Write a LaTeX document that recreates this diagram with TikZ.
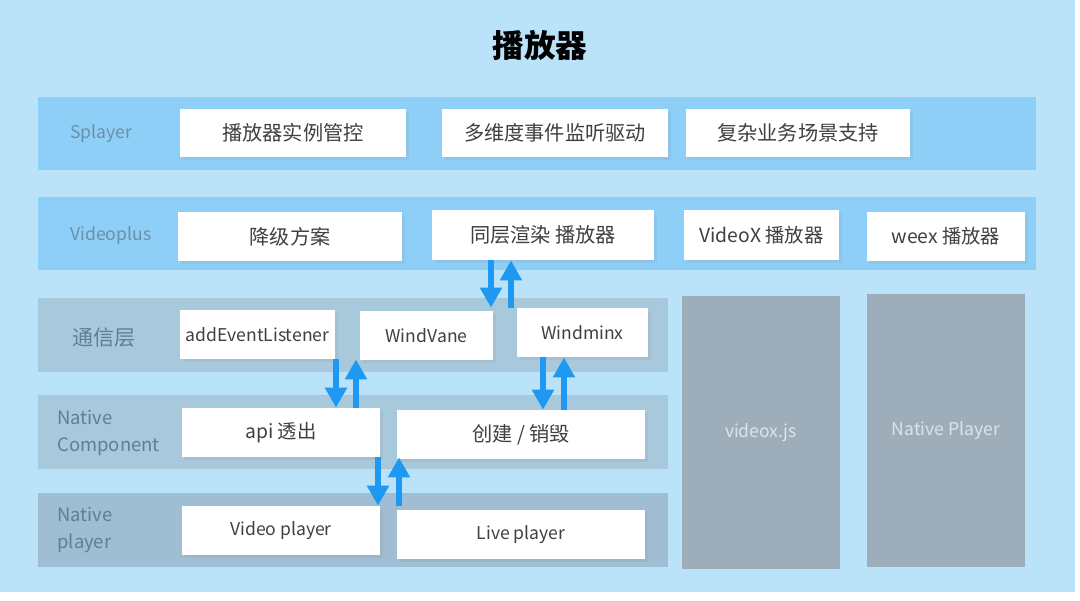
\documentclass[tikz,border=0pt]{standalone}
\usepackage{fontspec}
\setmainfont{Noto Sans CJK SC}
\usepackage{tikz}
\usetikzlibrary{arrows.meta,shadows}
\definecolor{bgblue}{HTML}{BAE3FA}
\definecolor{bandblue}{HTML}{8ECFF8}
\definecolor{bandgray}{HTML}{A8C8DC}
\definecolor{banddark}{HTML}{A0BED3}
\definecolor{blockgray}{HTML}{9EADBA}
\definecolor{labelblue}{HTML}{6C8FA8}
\definecolor{labelgray}{HTML}{5F7F96}
\definecolor{boxtext}{HTML}{404040}
\definecolor{blocktext}{HTML}{DCE4EA}
\definecolor{arrowblue}{HTML}{1E98F0}

\begin{document}
\begin{tikzpicture}[
      x=0.02cm, y=-0.02cm,
      every node/.style={font=\fontsize{11}{13}\selectfont, inner sep=0pt},
      sz/.style 2 args={minimum width=#1*0.02cm, minimum height=#2*0.02cm},
      band/.style={fill=#1},
      lbl/.style={anchor=west, text=#1, align=left},
      latin/.style={font=\fontsize{10}{14}\selectfont},
      cjk/.style={font=\fontsize{11.5}{13}\selectfont},
      item/.style={fill=white, text=boxtext,
        drop shadow={shadow xshift=1.5pt, shadow yshift=-1.5pt, opacity=0.12}},
      block/.style={fill=blockgray, text=blocktext, latin},
      dnarrow/.style={arrowblue, line width=0.12cm,
        -{Triangle[width=0.42cm,length=0.4cm]}},
      uparrow/.style={arrowblue, line width=0.12cm,
        {Triangle[width=0.42cm,length=0.4cm]}-}
    ]
      \useasboundingbox (0,0) rectangle (1080,600);
      \fill[white] (0,0) rectangle (1080,600);
      \fill[bgblue] (0,0) rectangle (1075,592);

      \node[font=\fontsize{18}{20}\selectfont\bfseries, text=black] (title) at (540,45) {播放器};

      % bands
      \node[band=bandblue, sz={998}{73}] (splayer) at (537,133.5) {};
      \node[band=bandblue, sz={998}{73}] (videoplus) at (537,233.5) {};
      \node[band=bandgray, sz={630}{74}] (comm) at (353,335) {};
      \node[band=bandgray, sz={630}{74}] (ncomp) at (353,432) {};
      \node[band=banddark, sz={630}{74}] (nplayer) at (353,530) {};

      \node[lbl=labelblue, latin] (lsplayer) at (70,134) {Splayer};
      \node[lbl=labelblue, latin] (lvideoplus) at (70,236) {Videoplus};
      \node[lbl=labelgray, font=\fontsize{12}{14}\selectfont] (lcomm) at (72,338) {通信层};
      \node[lbl=labelgray, latin, font=\fontsize{10.5}{15}\selectfont] (lncomp) at (57,433) {Native\\Component};
      \node[lbl=labelgray, latin, font=\fontsize{10.5}{15}\selectfont] (lnplayer) at (57,530) {Native\\player};

      % Splayer row
      \node[item, cjk, sz={226}{48}] (ctrl) at (293,133) {播放器实例管控};
      \node[item, cjk, sz={226}{48}] (event) at (555,133) {多维度事件监听驱动};
      \node[item, cjk, sz={224}{48}] (scene) at (798,133) {复杂业务场景支持};

      % Videoplus row
      \node[item, cjk, sz={224}{49}] (fallback) at (290,236.5) {降级方案};
      \node[item, cjk, sz={222}{50}] (tong) at (543,235) {同层渲染 播放器};
      \node[item, sz={155}{50}] (videox) at (761.5,235) {VideoX 播放器};
      \node[item, sz={158}{49}] (weex) at (946,236.5) {weex 播放器};

      % communication row
      \node[item, latin, sz={155}{49}] (listener) at (257.5,334.5) {addEventListener};
      \node[item, latin, sz={133}{49}] (windvane) at (426.5,335.5) {WindVane};
      \node[item, latin, sz={131}{49}] (windminx) at (582.5,332.5) {Windminx};

      % native component row
      \node[item, sz={198}{49}] (api) at (281,432.5) {api 透出};
      \node[item, cjk, sz={248}{49}] (create) at (521,434.5) {创建 / 销毁};

      % native player row
      \node[item, latin, sz={198}{49}] (video) at (281,530.5) {Video player};
      \node[item, latin, sz={248}{49}] (live) at (521,534.5) {Live player};

      % right blocks
      \node[block, sz={158}{273}] (videoxjs) at (761,432.5) {videox.js};
      \node[block, sz={158}{273}] (native) at (946,430.5) {Native Player};

      % arrows
      \coordinate (d1) at (491,0);
      \coordinate (u1) at (511,0);
      \coordinate (d2) at (336,0);
      \coordinate (u2) at (356,0);
      \coordinate (d3) at (543,0);
      \coordinate (u3) at (564,0);
      \coordinate (d4) at (378,0);
      \coordinate (u4) at (399,0);
      \draw[dnarrow] (d1 |- tong.south) -- (d1 |- windminx.north);
      \draw[uparrow] (u1 |- tong.south) -- (u1 |- windminx.north);
      \draw[dnarrow] (d2 |- listener.south) -- (d2 |- api.north);
      \draw[uparrow] (u2 |- listener.south) -- (u2 |- api.north);
      \draw[dnarrow] (d3 |- windminx.south) -- (d3 |- create.north);
      \draw[uparrow] (u3 |- windminx.south) -- (u3 |- create.north);
      \draw[dnarrow] (d4 |- api.south) -- (d4 |- video.north);
      \draw[uparrow] (u4 |- api.south) -- (u4 |- video.north);
    \end{tikzpicture}
\end{document}
